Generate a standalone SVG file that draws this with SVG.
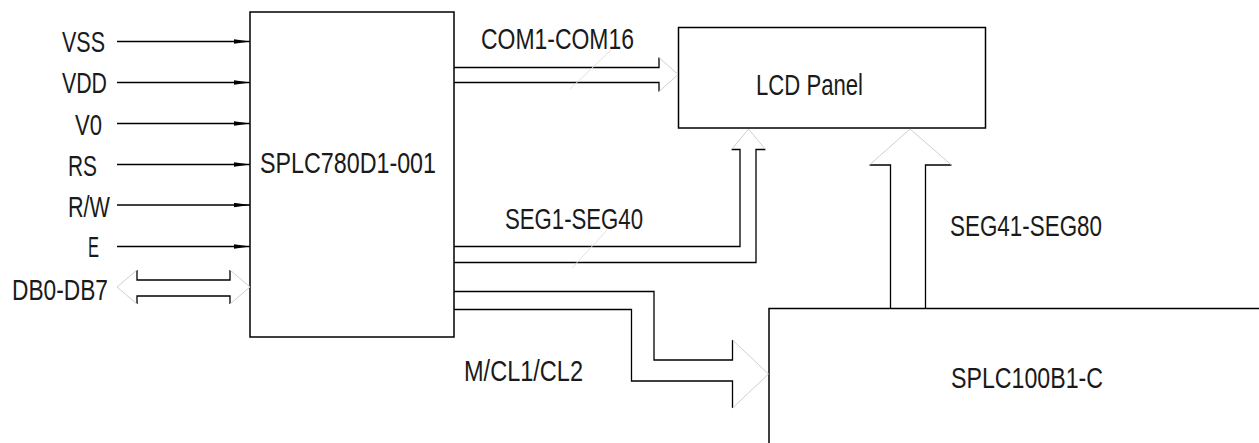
<svg xmlns="http://www.w3.org/2000/svg" width="1259" height="443" viewBox="0 0 1259 443">
<style>
text{font-family:"Liberation Sans Narrow","Liberation Sans",Arial,sans-serif;font-size:30px;fill:#1a1a1a;}
.ln{fill:none;stroke:#000;stroke-width:1.3;}
.box{fill:#fff;stroke:#000;stroke-width:1.5;}
.tip{fill:none;stroke:#cfcfcf;stroke-width:1;}
</style>
<defs>
<marker id="ah" markerUnits="userSpaceOnUse" markerWidth="17" markerHeight="6" refX="16" refY="2.2" orient="auto">
<path d="M0,0 L16,2.2 L0,4.4 z" fill="#000"/>
</marker>
</defs>
<rect width="1259" height="443" fill="#fff"/>

<g id="splc780">
<rect class="box" x="250" y="12" width="204" height="325"/>
<text x="260" y="173" textLength="176" lengthAdjust="spacingAndGlyphs">SPLC780D1-001</text>
</g>

<g id="lcd">
<rect class="box" x="678.5" y="27.5" width="307" height="100.5"/>
<text x="756" y="95" textLength="107" lengthAdjust="spacingAndGlyphs">LCD Panel</text>
</g>

<g id="splc100">
<path class="ln" d="M769,443 V308.5 H1259" style="stroke-width:1.5"/>
<text x="951" y="388" textLength="152" lengthAdjust="spacingAndGlyphs">SPLC100B1-C</text>
</g>

<g id="inputs">
<text x="62" y="52" textLength="43" lengthAdjust="spacingAndGlyphs">VSS</text>
<text x="62" y="93" textLength="45" lengthAdjust="spacingAndGlyphs">VDD</text>
<text x="75" y="135" textLength="27" lengthAdjust="spacingAndGlyphs">V0</text>
<text x="68" y="176" textLength="29" lengthAdjust="spacingAndGlyphs">RS</text>
<text x="68" y="216.5" textLength="42" lengthAdjust="spacingAndGlyphs">R/W</text>
<text x="88" y="257" textLength="11" lengthAdjust="spacingAndGlyphs">E</text>
<text x="12" y="300" textLength="96" lengthAdjust="spacingAndGlyphs">DB0-DB7</text>
</g>

<g id="connectors">
<line class="ln" x1="117" y1="41.5" x2="250" y2="41.5" marker-end="url(#ah)"/>
<line class="ln" x1="117" y1="82.5" x2="250" y2="82.5" marker-end="url(#ah)"/>
<line class="ln" x1="117" y1="123.5" x2="250" y2="123.5" marker-end="url(#ah)"/>
<line class="ln" x1="117" y1="164.5" x2="250" y2="164.5" marker-end="url(#ah)"/>
<line class="ln" x1="117" y1="205" x2="250" y2="205" marker-end="url(#ah)"/>
<line class="ln" x1="117" y1="246.5" x2="250" y2="246.5" marker-end="url(#ah)"/>

<path class="ln" d="M137,270 V280 H230 V270 M137,304 V296 H230 V304"/>
<path class="tip" d="M137,270 L117,287 L137,304 M230,270 L250,287 L230,304"/>

<path class="ln" d="M454,67.5 H659 V57.5 M454,82.5 H659 V91.5"/>
<path class="tip" d="M659,57.5 L678,74.5 L659,91.5"/>
<text x="481" y="49" textLength="153" lengthAdjust="spacingAndGlyphs">COM1-COM16</text>

<path class="ln" d="M454,246.5 H740 V149.5 H731.5 M454,262.5 H756 V149.5 H765.5"/>
<path class="tip" d="M731.5,149.5 L748.5,129 L765.5,149.5"/>
<text x="505" y="229" textLength="138" lengthAdjust="spacingAndGlyphs">SEG1-SEG40</text>

<path class="ln" d="M454,291.5 H654 V360 H732.5 V340 M454,309.5 H631.5 V381 H732.5 V408"/>
<path class="tip" d="M732.5,340 L768.5,374 L732.5,408"/>
<text x="464" y="381" textLength="119" lengthAdjust="spacingAndGlyphs">M/CL1/CL2</text>

<path class="ln" d="M890.5,308.5 V165 H869.5 M925.5,308.5 V165 H951.5"/>
<path class="tip" d="M869.5,165 L910,129 L951.5,165"/>
<text x="950" y="236" textLength="152" lengthAdjust="spacingAndGlyphs">SEG41-SEG80</text>

<path class="tip" d="M570,89 L611,50 M572,268 L607,230" style="stroke:#e2e2e2"/>
</g>
</svg>
